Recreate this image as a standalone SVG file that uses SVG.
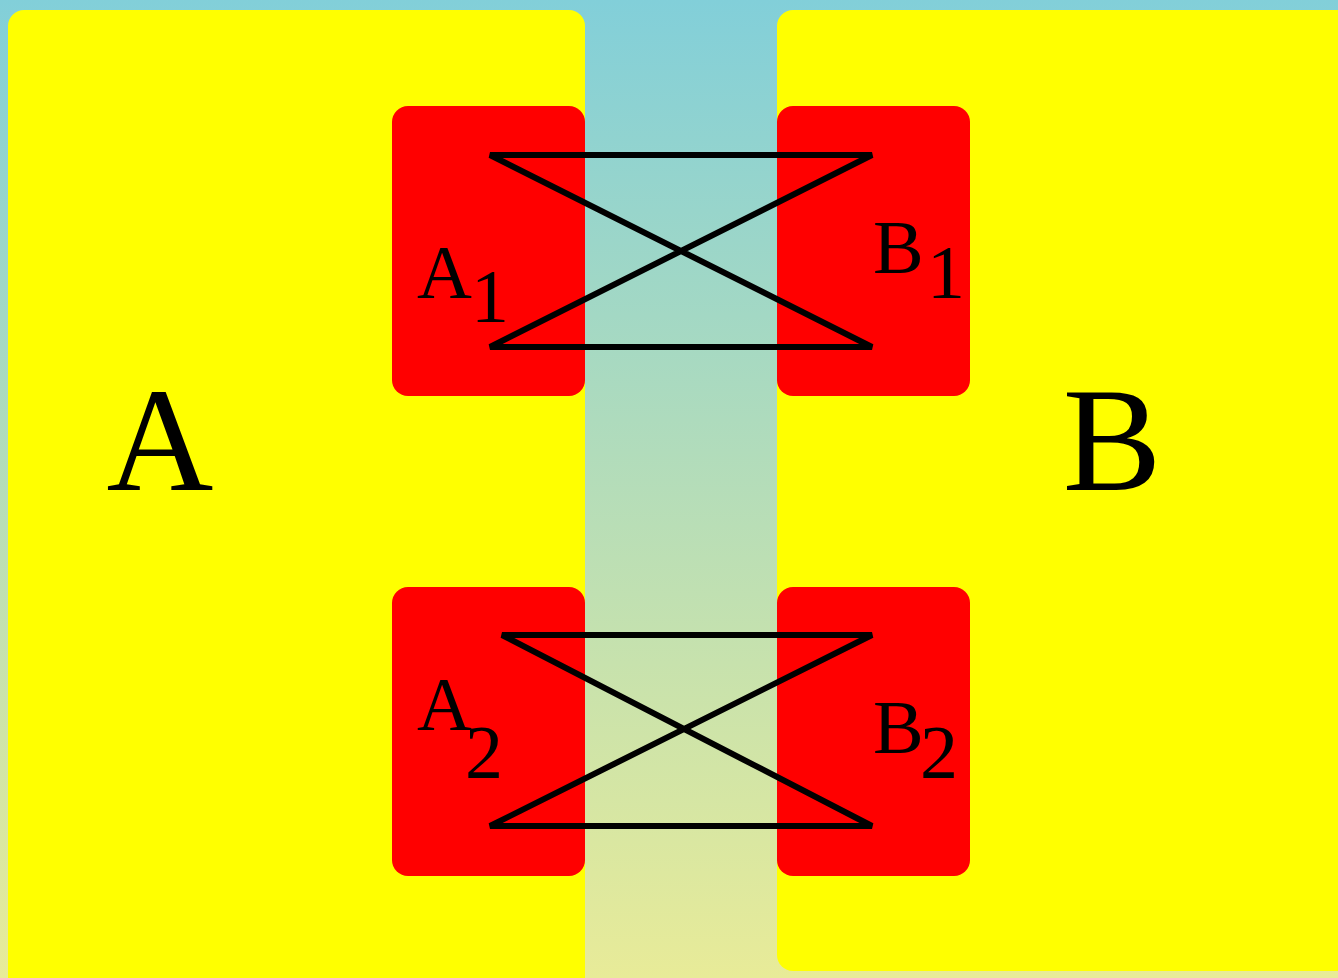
<svg xmlns="http://www.w3.org/2000/svg" width="1338" height="978" viewBox="0 0 1338 978">
<defs>
<linearGradient id="bg" x1="0" y1="0" x2="0" y2="1">
<stop offset="0" stop-color="#82CFD9"/>
<stop offset="1" stop-color="#E8EB98"/>
</linearGradient>
</defs>
<style>
.panel{fill:#FFFF00}
.port{fill:#FF0000}
.lbl{font-family:"Liberation Serif","Times New Roman",serif;fill:#000}
.big{font-size:148px}
.small{font-size:76px}
.conn{fill:none;stroke:#000;stroke-width:6;stroke-linejoin:miter}
</style>
<rect x="0" y="0" width="1338" height="978" fill="url(#bg)"/>
<g id="A">
<rect class="panel" x="8" y="10" width="577" height="985" rx="16"/>
<text class="lbl big" x="160" y="490" text-anchor="middle">A</text>
</g>
<g id="B">
<rect class="panel" x="777" y="10" width="600" height="961" rx="16"/>
<text class="lbl big" x="1112" y="490" text-anchor="middle">B</text>
</g>
<g id="A1">
<rect class="port" x="392" y="106" width="193" height="290" rx="16"/>
<text class="lbl small"><tspan x="417" y="298">A</tspan><tspan x="471" y="322">1</tspan></text>
</g>
<g id="B1">
<rect class="port" x="777" y="106" width="193" height="290" rx="16"/>
<text class="lbl small"><tspan x="873" y="273">B</tspan><tspan x="927" y="298">1</tspan></text>
</g>
<g id="A2">
<rect class="port" x="392" y="587" width="193" height="289" rx="16"/>
<text class="lbl small"><tspan x="417" y="730">A</tspan><tspan x="465" y="778">2</tspan></text>
</g>
<g id="B2">
<rect class="port" x="777" y="587" width="193" height="289" rx="16"/>
<text class="lbl small"><tspan x="873" y="753">B</tspan><tspan x="920" y="778">2</tspan></text>
</g>
<g id="connectors">
<path class="conn" d="M490,155 L872,155 L490,347 L872,347 Z"/>
<path class="conn" d="M502,635 L872,635 L490,826 L872,826 Z"/>
</g>
</svg>
